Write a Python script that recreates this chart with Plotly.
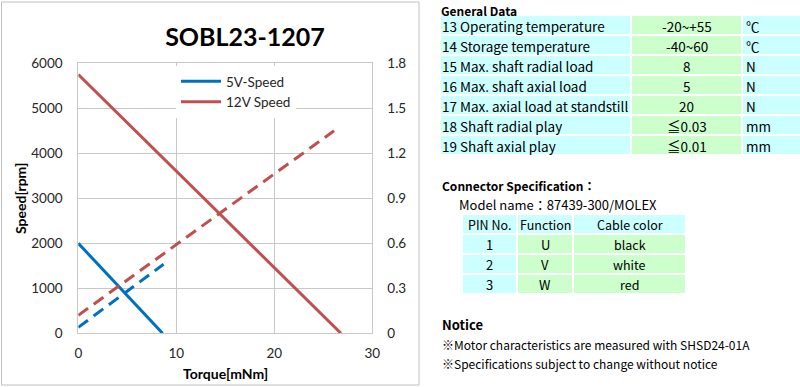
import plotly.graph_objects as go

# ---------------- data ----------------
torque_5v_speed = [0, 8.6]
speed_5v = [2000, 0]
torque_12v_speed = [0, 26.8]
speed_12v = [5750, 0]
torque_5v_current = [0, 8.7]
current_5v = [0.04, 0.46]
torque_12v_current = [0, 26.1]
current_12v = [0.12, 1.35]

x_ticks = [0, 10, 20, 30]
left_ticks = [0, 1000, 2000, 3000, 4000, 5000, 6000]
right_ticks = [0, 0.3, 0.6, 0.9, 1.2, 1.5, 1.8]
right_tick_labels = ["0", "0.3", "0.6", "0.9", "1.2", "1.5", "1.8"]

chart_title = "SOBL23-1207"
legend_names = ["5V-Speed", "12V Speed"]

general_numbers = ["13", "14", "15", "16", "17", "18", "19"]
general_items = ["Operating temperature", "Storage temperature", "Max. shaft radial load",
                 "Max. shaft axial load", "Max. axial load at standstill",
                 "Shaft radial play", "Shaft axial play"]
general_values = ["-20~+55", "-40~60", "8", "5", "20", "≦0.03", "≦0.01"]
general_units = ["℃", "℃", "N", "N", "N", "mm", "mm"]

conn_header = ["PIN No.", "Function", "Cable color"]
conn_pins = ["1", "2", "3"]
conn_functions = ["U", "V", "W"]
conn_colors = ["black", "white", "red"]

notice_lines = ["※Motor characteristics are measured with SHSD24-01A",
                "※Specifications subject to change without notice"]

# ---------------- style ----------------
W, H = 800, 387
BLUE = "#0070C0"
RED = "#C0504D"
GRID = "#C8C8C8"
CYAN = "#CCFFFF"
GREEN = "#CCFFCC"
CHART_FONT = "Lato"
JP_FONT = "Noto Sans CJK JP"


def fx(px):
    return px / W


def fy(py):
    return 1 - py / H


fig = go.Figure()
fig.add_trace(go.Scatter(x=torque_5v_speed, y=speed_5v, mode="lines", name=legend_names[0],
                         line=dict(color=BLUE, width=3)))
fig.add_trace(go.Scatter(x=torque_12v_speed, y=speed_12v, mode="lines", name=legend_names[1],
                         line=dict(color=RED, width=3)))
fig.add_trace(go.Scatter(x=torque_5v_current, y=current_5v, mode="lines", yaxis="y2",
                         showlegend=False, line=dict(color=BLUE, width=3, dash="12px,7px")))
fig.add_trace(go.Scatter(x=torque_12v_current, y=current_12v, mode="lines", yaxis="y2",
                         showlegend=False, line=dict(color=RED, width=3, dash="12px,7px")))

tickfont = dict(family=CHART_FONT, size=13.5, color="#262626")

fig.update_layout(
    width=W, height=H,
    margin=dict(l=0, r=0, t=0, b=0),
    paper_bgcolor="white", plot_bgcolor="white",
    showlegend=True,
    title=dict(text="<b>%s</b>" % chart_title, x=fx(245), y=fy(37), xanchor="center",
               yanchor="middle", font=dict(family=CHART_FONT, size=25, color="black")),
    xaxis=dict(domain=[fx(78.3), fx(372.3)], range=[0, 30], tickvals=x_ticks,
               showgrid=True, gridcolor=GRID, gridwidth=1, zeroline=False,
               showline=True, linecolor=GRID, linewidth=1, mirror=True,
               ticks="", tickfont=tickfont, automargin=False, ticklabelstandoff=7,
               fixedrange=True),
    yaxis=dict(domain=[fy(333.3), fy(63.3)], range=[0, 6000], tickvals=left_ticks,
               showgrid=True, gridcolor=GRID, gridwidth=1, zeroline=False,
               showline=True, linecolor=GRID, linewidth=1, mirror=True,
               ticks="", tickfont=tickfont, automargin=False, ticklabelstandoff=12,
               fixedrange=True),
    yaxis2=dict(overlaying="y", side="right", anchor="x", range=[0, 1.8],
                tickvals=right_ticks, ticktext=right_tick_labels, showgrid=False,
                zeroline=False, showline=False, ticks="", tickfont=tickfont,
                automargin=False, ticklabelstandoff=14, fixedrange=True),
    legend=dict(x=fx(176), y=fy(66), xanchor="left", yanchor="top", bgcolor="white",
                borderwidth=0, font=dict(family=CHART_FONT, size=13.5, color="#262626"),
                itemwidth=40, tracegroupgap=0),
)

shapes = []
annotations = []

# chart outer border
shapes.append(dict(type="rect", xref="paper", yref="paper", x0=fx(1.5), x1=fx(419),
                   y0=fy(385), y1=fy(2), line=dict(color="#C0C0C0", width=1),
                   fillcolor="rgba(0,0,0,0)", layer="below"))

# axis titles
annotations.append(dict(text="<b>Speed[rpm]</b>", x=fx(20), y=fy(199), xref="paper", yref="paper",
                        showarrow=False, textangle=-90, xanchor="center", yanchor="middle",
                        font=dict(family=CHART_FONT, size=14, color="black")))
annotations.append(dict(text="<b>Torque[mNm]</b>", x=fx(225), y=fy(373), xref="paper", yref="paper",
                        showarrow=False, xanchor="center", yanchor="middle",
                        font=dict(family=CHART_FONT, size=14, color="black")))


def text(t, px, py, size, anchor="left", bold=False, yanchor="middle"):
    annotations.append(dict(text=("<b>%s</b>" % t) if bold else t, x=fx(px), y=fy(py),
                            xref="paper", yref="paper", showarrow=False, xanchor=anchor,
                            yanchor=yanchor, borderpad=0,
                            font=dict(family=JP_FONT, size=size, color="black")))


def cell(x0, x1, y0, y1, color):
    shapes.append(dict(type="rect", xref="paper", yref="paper", x0=fx(x0), x1=fx(x1),
                       y0=fy(y1), y1=fy(y0), fillcolor=color,
                       line=dict(color="white", width=2), layer="below"))


# General data table
text("General Data", 440, 0.5, 12, bold=True, yanchor="top")
row_h = 20
top1 = 15
cols1 = [440, 631, 742, 801]
for i in range(len(general_items)):
    y0 = top1 + i * row_h
    cell(cols1[0], cols1[1], y0, y0 + row_h, CYAN)
    cell(cols1[1], cols1[2], y0, y0 + row_h, GREEN)
    cell(cols1[2], cols1[3], y0, y0 + row_h, CYAN)
    yc = y0 + row_h / 2 + 1
    text("%s %s" % (general_numbers[i], general_items[i]), 441, yc, 13.5)
    text(general_values[i], (cols1[1] + cols1[2]) / 2, yc, 13.5, anchor="center")
    text(general_units[i], 745, yc, 13.5)

# Connector specification
text("Connector Specification：", 441, 185, 12, bold=True)
text("Model name：87439-300/MOLEX", 458, 204, 13)
top2 = 214
cols2 = [462, 517, 573, 686]
for j, h in enumerate(conn_header):
    cell(cols2[j], cols2[j + 1], top2, top2 + row_h, CYAN)
    text(h, (cols2[j] + cols2[j + 1]) / 2, top2 + row_h / 2 + 0.5, 12.5, anchor="center")
for i in range(len(conn_pins)):
    y0 = top2 + (i + 1) * row_h
    row = [conn_pins[i], conn_functions[i], conn_colors[i]]
    fills = [CYAN, GREEN, GREEN]
    for j in range(3):
        cell(cols2[j], cols2[j + 1], y0, y0 + row_h, fills[j])
        text(row[j], (cols2[j] + cols2[j + 1]) / 2, y0 + row_h / 2 + 0.5,
             13 if j < 2 else 12.5, anchor="center")

# Notice
text("Notice", 441, 324, 13, bold=True)
for k, line in enumerate(notice_lines):
    text(line, 441, 344 + k * 19.5, 12)

fig.update_layout(shapes=shapes, annotations=annotations)
fig.write_html(
    "out.html",
    config={"displayModeBar": False},
    post_script="document.documentElement.style.margin='0';document.body.style.margin='0';"
                "document.body.style.overflow='hidden';",
)
